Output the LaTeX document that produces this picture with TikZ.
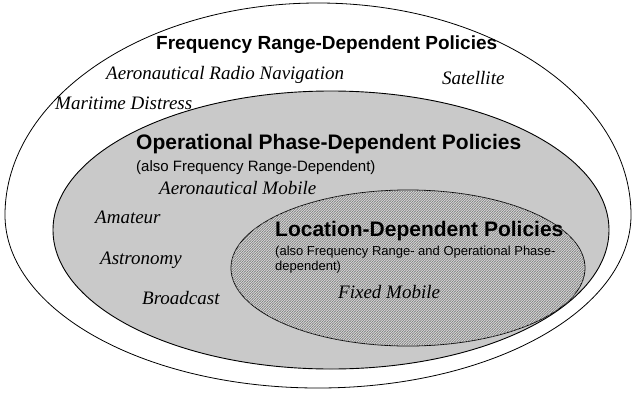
\documentclass[tikz,border=0pt]{standalone}
\usepackage{fontspec}
\setmainfont{Liberation Serif}
\setsansfont{Liberation Sans}
\usetikzlibrary{positioning, patterns}

\pgfdeclarepatternformonly{fine lines}{\pgfqpoint{-1pt}{-1pt}}{\pgfqpoint{3.5pt}{3.5pt}}{\pgfqpoint{2.5pt}{2.5pt}}{
  \pgfsetlinewidth{0.6pt}
  \pgfpathmoveto{\pgfqpoint{-0.5pt}{-0.5pt}}
  \pgfpathlineto{\pgfqpoint{3pt}{3pt}}
  \pgfusepath{stroke}}

\begin{document}
\begin{tikzpicture}[x=1pt, y=-1pt,
  every node/.style={inner sep=0pt, anchor=mid west},
  head/.style={font=\sffamily\bfseries\fontsize{19}{22}\selectfont},
  bighead/.style={font=\sffamily\bfseries\fontsize{21}{24}\selectfont},
  note/.style={font=\sffamily\fontsize{15}{17}\selectfont},
  smallnote/.style={font=\sffamily\fontsize{13}{15}\selectfont, align=left},
  band/.style={font=\itshape\fontsize{19}{22}\selectfont}]
  \useasboundingbox (0,0) rectangle (632,394);
%
  \draw[line width=.8pt, fill=white] (5,215)
    arc[start angle=180, end angle=0, x radius=313pt, y radius=212pt]
    arc[start angle=0, end angle=-180, x radius=313pt, y radius=173pt] -- cycle;
  \draw[line width=.9pt, fill=black!21] (331,230) ellipse [x radius=278, y radius=139];
  \draw[line width=.8pt, fill=black!15, postaction={pattern=fine lines, pattern color=black!50}]
    (408,268) ellipse [x radius=177, y radius=78];
%
  \node[head] (Freq) at (156,47) {Frequency Range-Dependent Policies};
  \node[band] (ARN) at (106,77) {Aeronautical Radio Navigation};
  \node[band] (Sat) at (442,82) {Satellite};
  \node[band] (Mar) at (55,107) {Maritime Distress};
%
  \node[bighead] (Opr) at (136,147) {Operational Phase-Dependent Policies};
  \node[note] (Oprsub) at (136,169) {(also Frequency Range-Dependent)};
  \node[band] (AMob) at (159,192) {Aeronautical Mobile};
  \node[band] (Ama) at (95,221) {Amateur};
  \node[band] (Ast) at (100,262) {Astronomy};
  \node[band] (Brd) at (142,302) {Broadcast};
%
  \node[bighead] (Loc) at (275,234) {Location-Dependent Policies};
  \node[smallnote, anchor=north west] (Locsub) at (275,246) {(also Frequency Range- and Operational Phase-\\dependent)};
  \node[band] (FMob) at (338,296) {Fixed Mobile};
\end{tikzpicture}
\end{document}
